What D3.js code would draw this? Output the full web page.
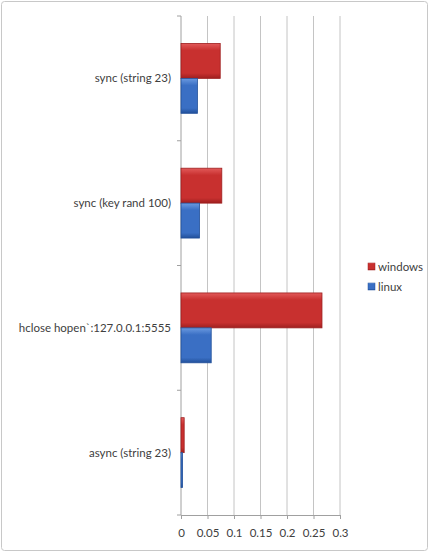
<!DOCTYPE html>
<html>
<head>
<meta charset="utf-8">
<script src="https://cdn.jsdelivr.net/npm/d3@7"></script>
<style>
  body { margin: 0; background: #fff; }
  svg { display: block; font-family: Lato, "Open Sans", sans-serif; }
</style>
</head>
<body>
<svg id="chart" width="429" height="552"></svg>
<script>
// Data
const categories = ["sync (string 23)", "sync (key rand 100)", "hclose hopen`:127.0.0.1:5555", "async (string 23)"];
const seriesNames = ["windows", "linux"];
const windowsValues = [0.074, 0.077, 0.266, 0.006];
const linuxValues = [0.031, 0.035, 0.057, 0.003];
const xTicks = [0, 0.05, 0.1, 0.15, 0.2, 0.25, 0.3];
const colors = { windows: ["#e25a5a", "#c8302f", "#9e1f1f"], linux: ["#6b9ae0", "#3a6fc4", "#22509a"] };

const svg = d3.select("#chart");

// outer frame
svg.append("rect")
  .attr("x", 1.5).attr("y", 1.5).attr("width", 426).attr("height", 549)
  .attr("rx", 3).attr("fill", "#fff").attr("stroke", "#c8c8c8");

const plotLeft = 181, plotRight = 340, plotTop = 16, plotBottom = 515;

const x = d3.scaleLinear().domain([0, 0.3]).range([plotLeft, plotRight]);
const y = d3.scaleBand().domain(categories).range([plotTop, plotBottom]);

// gradients
const defs = svg.append("defs");
seriesNames.forEach(s => {
  const g = defs.append("linearGradient").attr("id", "grad-" + s)
    .attr("x1", 0).attr("y1", 0).attr("x2", 0).attr("y2", 1);
  g.append("stop").attr("offset", "0%").attr("stop-color", colors[s][0]);
  g.append("stop").attr("offset", "20%").attr("stop-color", colors[s][1]);
  g.append("stop").attr("offset", "85%").attr("stop-color", colors[s][1]);
  g.append("stop").attr("offset", "100%").attr("stop-color", colors[s][2]);
});

// gridlines
svg.append("g")
  .selectAll("line")
  .data(xTicks.slice(1))
  .enter().append("line")
  .attr("x1", d => x(d)).attr("x2", d => x(d))
  .attr("y1", plotTop).attr("y2", plotBottom)
  .attr("stroke", "#c4c4c4").attr("stroke-width", 1);

// bottom axis
const xAxis = svg.append("g")
  .attr("transform", `translate(0,${plotBottom})`)
  .call(d3.axisBottom(x).tickValues(xTicks).tickSize(4).tickPadding(10).tickFormat(d3.format("")));
xAxis.select(".domain").attr("stroke", "#a0a0a0");
xAxis.selectAll(".tick line").attr("stroke", "#a0a0a0");
xAxis.selectAll("text").attr("font-size", 11.5).attr("fill", "#404040").attr("font-family", "Lato, sans-serif");

// left axis
const yTickPos = categories.map(c => y(c)).concat([plotBottom]);
svg.append("line")
  .attr("x1", plotLeft).attr("x2", plotLeft).attr("y1", plotTop).attr("y2", plotBottom)
  .attr("stroke", "#a0a0a0");
svg.append("g").selectAll("line")
  .data(yTickPos).enter().append("line")
  .attr("x1", plotLeft - 4).attr("x2", plotLeft).attr("y1", d => d).attr("y2", d => d)
  .attr("stroke", "#a0a0a0");

svg.append("g").selectAll("text")
  .data(categories).enter().append("text")
  .attr("x", plotLeft - 10)
  .attr("y", d => y(d) + y.bandwidth() / 2)
  .attr("dy", "0.35em")
  .attr("text-anchor", "end")
  .attr("font-size", 11.5)
  .attr("fill", "#404040")
  .text(d => d);

// bars
const barH = y.bandwidth() * 0.28;
const rows = [];
categories.forEach((c, i) => {
  rows.push({ cat: c, series: "windows", value: windowsValues[i], idx: 0 });
  rows.push({ cat: c, series: "linux", value: linuxValues[i], idx: 1 });
});

svg.append("g").selectAll("rect")
  .data(rows).enter().append("rect")
  .attr("x", plotLeft)
  .attr("y", d => y(d.cat) + y.bandwidth() / 2 - barH + d.idx * barH)
  .attr("width", d => x(d.value) - plotLeft)
  .attr("height", barH)
  .attr("fill", d => `url(#grad-${d.series})`)
  .attr("stroke", d => colors[d.series][2])
  .attr("stroke-width", 0.8);

// legend
const legend = svg.append("g").attr("transform", "translate(368,267)");
seriesNames.forEach((s, i) => {
  const row = legend.append("g").attr("transform", `translate(0,${i * 20})`);
  row.append("rect").attr("x", 0).attr("y", -4).attr("width", 7).attr("height", 7)
    .attr("fill", `url(#grad-${s})`).attr("stroke", colors[s][2]).attr("stroke-width", 0.5);
  row.append("text").attr("x", 10).attr("y", 0).attr("dy", "0.35em")
    .attr("font-size", 11.5).attr("fill", "#404040").text(s);
});
</script>
</body>
</html>
